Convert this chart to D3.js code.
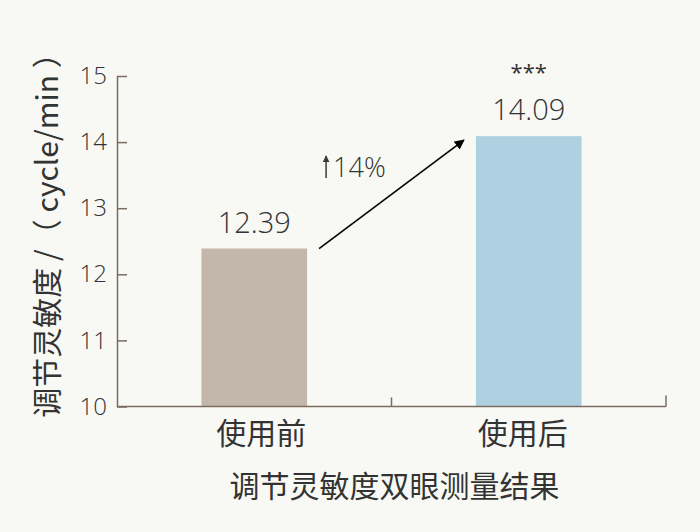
<!DOCTYPE html>
<html>
<head>
<meta charset="utf-8">
<script src="https://cdn.jsdelivr.net/npm/d3@7"></script>
<style>
  body { margin: 0; background: #f8f9f4; }
  svg { display: block; }
  .num { font-family: "Open Sans", "Noto Sans", sans-serif; font-weight: 300; fill: #333; }
  .cjk { font-family: "Noto Sans CJK SC", sans-serif; fill: #333; }
</style>
</head>
<body>
<svg id="chart" width="700" height="532"></svg>
<script>
// data
var categories = ['使用前', '使用后'];
var values = [12.39, 14.09];
var valueLabels = ['12.39', '14.09'];
var barColors = ['#c3b7ab', '#aed0e0'];
var yTicks = [10, 11, 12, 13, 14, 15];
var increaseLabel = '14%';
var sigLabel = '***';

var svg = d3.select('#chart');
var axisColor = '#7b6b60';

var x = d3.scaleBand().domain(categories).range([117, 666]);
var y = d3.scaleLinear().domain([10, 15]).range([406.5, 76]);
var barW = x.bandwidth() * 0.385;
function barX(d) { return x(d) + x.bandwidth() / 2 - barW / 2; }

// bars
svg.selectAll('rect.bar')
  .data(categories)
  .enter().append('rect')
  .attr('class', 'bar')
  .attr('x', function(d) { return barX(d); })
  .attr('width', barW)
  .attr('y', function(d, i) { return y(values[i]); })
  .attr('height', function(d, i) { return y(10) - y(values[i]); })
  .attr('fill', function(d, i) { return barColors[i]; });

// y axis, ticks point inward
var yAxis = svg.append('g')
  .attr('transform', 'translate(117,0)')
  .call(d3.axisLeft(y).tickValues(yTicks).tickFormat(d3.format('d'))
    .tickSizeInner(-10).tickSizeOuter(0).tickPadding(10));
yAxis.select('.domain').attr('stroke', axisColor).attr('stroke-width', 1.5);
yAxis.selectAll('.tick line').attr('stroke', axisColor).attr('stroke-width', 1.5);
yAxis.selectAll('.tick text')
  .attr('class', 'num')
  .style('font-size', '24px')
  .attr('fill', '#333');

// x axis labels
var xAxis = svg.append('g')
  .attr('transform', 'translate(0,' + y(10) + ')')
  .call(d3.axisBottom(x).tickSize(0).tickPadding(16));
xAxis.select('.domain').remove();
xAxis.selectAll('.tick text')
  .attr('class', 'cjk')
  .attr('dx', function(d, i) { return i === 0 ? 7 : -6; })
  .style('font-size', '30px')
  .attr('fill', '#333');

// x axis line and band separators
var xr = x.range();
svg.append('line')
  .attr('x1', xr[0]).attr('x2', xr[1])
  .attr('y1', y(10)).attr('y2', y(10))
  .attr('stroke', axisColor).attr('stroke-width', 1.5);
var seps = categories.slice(1).map(function(d) { return x(d); }).concat([xr[1]]);
svg.selectAll('line.sep')
  .data(seps)
  .enter().append('line')
  .attr('class', 'sep')
  .attr('x1', function(d) { return d; }).attr('x2', function(d) { return d; })
  .attr('y1', y(10)).attr('y2', function(d, i) { return y(10) - (i === seps.length - 1 ? 11 : 9); })
  .attr('stroke', axisColor).attr('stroke-width', 1.5);

// value labels
svg.selectAll('text.val')
  .data(categories)
  .enter().append('text')
  .attr('class', 'num val')
  .attr('x', function(d) { return x(d) + x.bandwidth() / 2; })
  .attr('y', function(d, i) { return y(values[i]) - 16; })
  .attr('text-anchor', 'middle')
  .style('font-size', '29px')
  .text(function(d, i) { return valueLabels[i]; });

// significance
svg.append('text')
  .attr('class', 'num')
  .attr('x', x(categories[1]) + x.bandwidth() / 2)
  .attr('y', y(values[1]) - 56)
  .attr('text-anchor', 'middle')
  .style('font-size', '22px')
  .style('font-weight', 400)
  .text(sigLabel);

// arrow between bars
var defs = svg.append('defs');
defs.append('marker')
  .attr('id', 'ah')
  .attr('viewBox', '0 0 10 10')
  .attr('refX', 9).attr('refY', 5)
  .attr('markerWidth', 10).attr('markerHeight', 10)
  .attr('markerUnits', 'userSpaceOnUse')
  .attr('orient', 'auto')
  .append('path').attr('d', 'M0,0L10,5L0,10z').attr('fill', '#000');
defs.append('marker')
  .attr('id', 'ahs')
  .attr('viewBox', '0 0 10 10')
  .attr('refX', 9).attr('refY', 5)
  .attr('markerWidth', 7).attr('markerHeight', 7)
  .attr('markerUnits', 'userSpaceOnUse')
  .attr('orient', 'auto')
  .append('path').attr('d', 'M0,0L10,5L0,10z').attr('fill', '#3a3a3a');

var ax1 = barX(categories[0]) + barW + 12, ay1 = y(values[0]);
var ax2 = barX(categories[1]) - 12, ay2 = y(values[1]) + 4;
svg.append('line')
  .attr('x1', ax1).attr('y1', ay1)
  .attr('x2', ax2).attr('y2', ay2)
  .attr('stroke', '#000').attr('stroke-width', 1.6)
  .attr('marker-end', 'url(#ah)');

// small up arrow + increase label
svg.append('line')
  .attr('x1', ax1 + 7).attr('x2', ax1 + 7)
  .attr('y1', 178).attr('y2', 156)
  .attr('stroke', '#3a3a3a').attr('stroke-width', 1.5)
  .attr('marker-end', 'url(#ahs)');
svg.append('text')
  .attr('class', 'num')
  .attr('x', ax1 + 14)
  .attr('y', 177)
  .style('font-size', '27px')
  .text(increaseLabel);

// axis titles
svg.append('text')
  .attr('class', 'cjk')
  .attr('transform', 'translate(58,228) rotate(-90)')
  .attr('text-anchor', 'middle')
  .style('font-size', '30px')
  .text('调节灵敏度 /（ cycle/min ）');

svg.append('text')
  .attr('class', 'cjk')
  .attr('x', (xr[0] + xr[1]) / 2 + 3)
  .attr('y', 497)
  .attr('text-anchor', 'middle')
  .style('font-size', '30px')
  .text('调节灵敏度双眼测量结果');
</script>
</body>
</html>
